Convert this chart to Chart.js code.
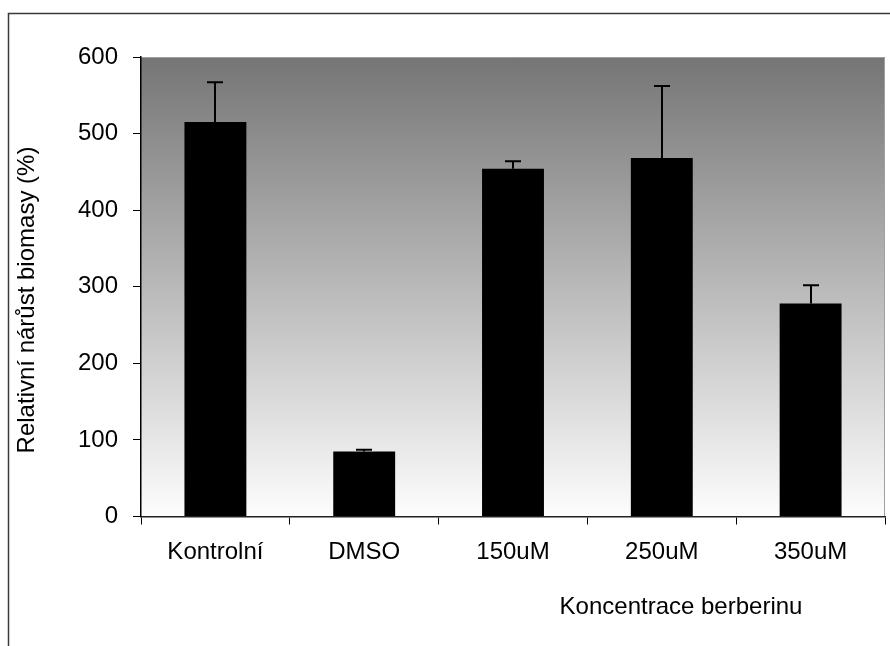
<!DOCTYPE html>
<html>
<head>
<meta charset="utf-8">
<script src="https://cdn.jsdelivr.net/npm/chart.js@4.4.0/dist/chart.umd.min.js"></script>
<style>
html,body{margin:0;padding:0;background:#fff;}
#wrap{position:relative;width:890px;height:646px;}
canvas{display:block;}
</style>
</head>
<body>
<div id="wrap"><canvas id="c" width="890" height="646"></canvas></div>
<script>
const categories = ["Kontrolní", "DMSO", "150uM", "250uM", "350uM"];
const values = [515, 85, 454, 468, 278];
const errorsUp = [52, 2, 10, 94, 24];
const yTicks = [0, 100, 200, 300, 400, 500, 600];
const yTitle = "Relativní nárůst biomasy (%)";
const xTitle = "Koncentrace berberinu";

const FONT = "'Liberation Sans', Arial, sans-serif";

const decor = {
  id: 'decor',
  beforeDraw(chart) {
    const {ctx, chartArea: a} = chart;
    ctx.save();
    ctx.fillStyle = '#fff';
    ctx.fillRect(0, 0, chart.width, chart.height);
    const g = ctx.createLinearGradient(0, a.top, 0, a.bottom);
    g.addColorStop(0, '#757575');
    g.addColorStop(1, '#fdfdfd');
    ctx.fillStyle = g;
    ctx.fillRect(a.left, a.top, a.right - a.left, a.bottom - a.top);
    ctx.strokeStyle = '#a0a0a0';
    ctx.lineWidth = 1;
    ctx.beginPath();
    ctx.moveTo(a.left, a.top + 0.5);
    ctx.lineTo(a.right - 0.5, a.top + 0.5);
    ctx.lineTo(a.right - 0.5, a.bottom);
    ctx.stroke();
    // outer frame
    ctx.strokeStyle = '#3a3a3a';
    ctx.lineWidth = 1.5;
    ctx.beginPath();
    ctx.moveTo(8.5, chart.height);
    ctx.lineTo(8.5, 13.5);
    ctx.lineTo(chart.width, 13.5);
    ctx.stroke();
    ctx.restore();
  },
  afterDatasetsDraw(chart) {
    const {ctx} = chart;
    const xs = chart.scales.x, ys = chart.scales.y;
    ctx.save();
    ctx.strokeStyle = '#000';
    ctx.lineWidth = 2;
    values.forEach((v, i) => {
      const x = Math.round(xs.getPixelForValue(i)) + 0;
      const y0 = ys.getPixelForValue(v);
      const y1 = ys.getPixelForValue(v + errorsUp[i]);
      ctx.beginPath();
      ctx.moveTo(x, y0);
      ctx.lineTo(x, y1);
      ctx.moveTo(x - 8, y1);
      ctx.lineTo(x + 8, y1);
      ctx.stroke();
    });
    // titles
    ctx.fillStyle = '#000';
    ctx.font = '24px ' + FONT;
    ctx.textAlign = 'center';
    ctx.textBaseline = 'middle';
    ctx.fillText(xTitle, 681, 607);
    ctx.translate(27, 300);
    ctx.rotate(-Math.PI / 2);
    ctx.fillText(yTitle, 0, 0);
    ctx.restore();
  }
};

new Chart(document.getElementById('c'), {
  type: 'bar',
  data: {
    labels: categories,
    datasets: [{
      data: values,
      backgroundColor: '#000',
      borderWidth: 0,
      categoryPercentage: 1,
      barPercentage: 0.416
    }]
  },
  options: {
    responsive: false,
    animation: false,
    devicePixelRatio: 1,
    layout: { padding: { top: 57, right: 5, left: 0, bottom: 0 } },
    plugins: { legend: { display: false }, tooltip: { enabled: false } },
    scales: {
      x: {
        afterFit(s) { s.height = 129.5; },
        grid: { display: true, drawOnChartArea: false, drawTicks: true, tickLength: 8, color: '#000', offset: true },
        border: { display: true, color: '#222', width: 1.5 },
        ticks: { color: '#000', font: { family: FONT, size: 24 }, padding: 13, maxRotation: 0 }
      },
      y: {
        min: 0, max: 600,
        afterFit(s) { s.width = 141; },
        afterBuildTicks(s) { s.ticks = yTicks.map(v => ({ value: v })); },
        grid: { display: true, drawOnChartArea: false, drawTicks: true, tickLength: 8, color: '#000' },
        border: { display: true, color: '#000', width: 1.5 },
        ticks: { color: '#000', font: { family: FONT, size: 24 }, padding: 15 }
      }
    }
  },
  plugins: [decor]
});
</script>
</body>
</html>
